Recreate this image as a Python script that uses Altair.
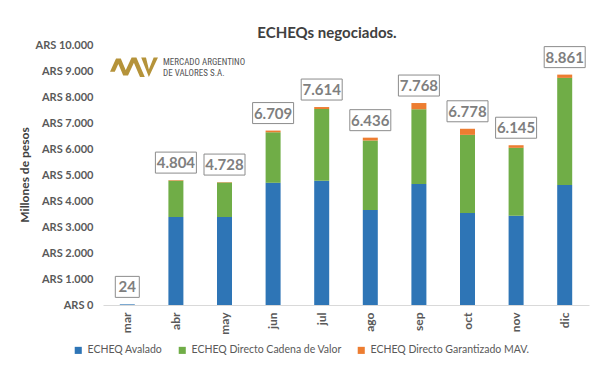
import altair as alt
import pandas as pd

meses = ["mar", "abr", "may", "jun", "jul", "ago", "sep", "oct", "nov", "dic"]
avalado = [24, 3385, 3385, 4700, 4780, 3650, 4650, 3540, 3435, 4615]
directo_cadena = [0, 1399, 1328, 1944, 2759, 2676, 2878, 3003, 2610, 4121]
directo_garantizado = [0, 20, 15, 65, 75, 110, 240, 235, 100, 125]
totales = [24, 4804, 4728, 6709, 7614, 6436, 7768, 6778, 6145, 8861]
etiquetas = ["24", "4.804", "4.728", "6.709", "7.614", "6.436", "7.768", "6.778", "6.145", "8.861"]

series = ["ECHEQ Avalado", "ECHEQ Directo Cadena de Valor", "ECHEQ Directo Garantizado MAV."]
colores = ["#2E75B6", "#70AD47", "#ED7D31"]

rows = []
for i, m in enumerate(meses):
    for k, (s, vals) in enumerate(zip(series, [avalado, directo_cadena, directo_garantizado])):
        rows.append({"mes": m, "serie": s, "valor": vals[i], "orden": k})
df = pd.DataFrame(rows)
df_tot = pd.DataFrame({"mes": meses, "total": totales, "etiqueta": etiquetas})
df_tot["ancho"] = df_tot["etiqueta"].str.len()

FONT = "Lato"
GRAY = "#595959"

x_axis = alt.Axis(labelAngle=270, labelFontWeight="bold", labelFontSize=12,
                  labelColor=GRAY, labelFont=FONT, ticks=False,
                  domainColor="#d9d9d9", labelPadding=7, title=None)
x_scale = alt.Scale(paddingInner=0, paddingOuter=0)

y_axis = alt.Axis(values=list(range(0, 10001, 1000)), grid=False, domain=False, ticks=False,
                  labelExpr="'ARS ' + replace(format(datum.value, ',.0f'), /,/g, '.')",
                  labelFontSize=11, labelFontWeight="bold", labelColor=GRAY, labelFont=FONT,
                  labelPadding=10, labelOverlap=False, labelFlush=False, title=None)
y_scale = alt.Scale(domain=[0, 10000])

def X():
    return alt.X("mes:N", sort=meses, scale=x_scale, axis=x_axis)

bars = alt.Chart(df).mark_bar(width=15).encode(
    x=X(),
    y=alt.Y("valor:Q", stack="zero", scale=y_scale, axis=y_axis),
    color=alt.Color("serie:N", scale=alt.Scale(domain=series, range=colores),
                    legend=alt.Legend(orient="none", legendX=-30, legendY=300, direction="horizontal",
                                      title=None, symbolType="square", symbolSize=50,
                                      labelFontSize=10.5, labelFont=FONT, labelColor=GRAY,
                                      labelLimit=0, columnPadding=14, symbolStrokeWidth=0)),
    order=alt.Order("orden:Q", sort="ascending"),
)

def box(width, cond):
    return alt.Chart(df_tot).transform_filter(cond).mark_bar(
        width=width, yOffset=-28, y2Offset=-7, fill="white", stroke="#8c8c8c", strokeWidth=1
    ).encode(x=X(), y=alt.Y("total:Q", scale=y_scale, axis=y_axis), y2="total:Q")

box_big = box(41, "datum.ancho > 2")
box_small = box(24, "datum.ancho <= 2")

labels = alt.Chart(df_tot).mark_text(dy=-17, fontSize=15, fontWeight="bold", font=FONT,
                                     color="#7f7f7f").encode(
    x=X(), y=alt.Y("total:Q", scale=y_scale, axis=y_axis), text="etiqueta:N")

title = alt.Chart(pd.DataFrame({"t": ["ECHEQs negociados."]})).mark_text(
    fontSize=15, fontWeight="bold", font=FONT, color="#404040"
).encode(x=alt.value(224), y=alt.value(-12), text="t:N")

ytitle = alt.Chart(pd.DataFrame({"t": ["Millones de pesos"]})).mark_text(
    fontSize=12, fontWeight="bold", font=FONT, color="#404040", angle=270
).encode(x=alt.value(-78), y=alt.value(130), text="t:N")

logo_text = alt.Chart(pd.DataFrame({"t": ["MERCADO ARGENTINO", "DE VALORES S.A."], "yy": [17, 28]})).mark_text(
    fontSize=9, font="Liberation Sans Narrow, Roboto Condensed, Lato", color="#555555", align="left"
).encode(x=alt.value(60), y=alt.Y("yy:Q", scale=None), text="t:N")

logo_path = ("M -1 0.2 L -0.75 -0.35 L -0.55 -0.35 L -0.8 0.2 Z "
             "M -0.75 -0.35 L -0.55 -0.35 L -0.25 0.35 L -0.45 0.35 Z "
             "M -0.45 0.35 L -0.1 -0.4 L 0.1 -0.4 L -0.25 0.35 Z "
             "M -0.1 -0.4 L 0.1 -0.4 L 0.45 0.42 L 0.25 0.42 Z "
             "M 0.3 -0.4 L 0.5 -0.4 L 0.62 0.1 L 0.82 -0.4 L 1 -0.4 L 0.62 0.42 Z")
logo = alt.Chart(pd.DataFrame({"a": [1]})).mark_point(
    shape=logo_path, filled=True, color="#b5933a", opacity=1, size=2300, strokeWidth=0
).encode(x=alt.value(31), y=alt.value(22))

chart = alt.layer(bars, box_big, box_small, labels, title, ytitle, logo_text, logo).properties(
    width=486, height=260,
    autosize=alt.AutoSizeParams(type="none"),
    padding={"left": 95, "top": 37, "right": 5, "bottom": 60},
).configure_view(stroke=None)

chart.save("out.html", embed_options={"renderer": "svg", "actions": False})
